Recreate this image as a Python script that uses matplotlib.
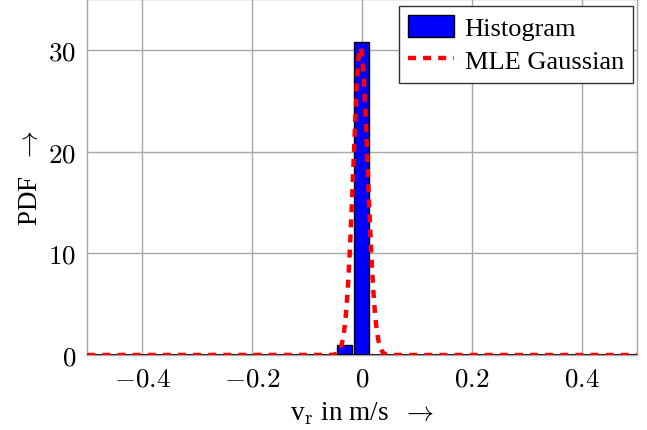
import numpy as np
import matplotlib
matplotlib.use("Agg")
import matplotlib.pyplot as plt
from matplotlib.ticker import FuncFormatter

# histogram bars
bin_centers = [-0.032, -0.001]
bin_heights = [1.0, 30.8]
bar_width = 0.026

# MLE Gaussian parameters (estimated from the drawn curve)
mle_mu = -0.003
mle_sigma = 0.0132

x_ticks = [-0.4, -0.2, 0.0, 0.2, 0.4]
y_ticks = [0, 10, 20, 30]

plt.rcParams['font.family'] = ['Liberation Serif', 'DejaVu Serif']
plt.rcParams['mathtext.fontset'] = 'cm'

fig = plt.figure(figsize=(6.47, 4.31), dpi=100)
ax = fig.add_axes([0.135, 0.174, 0.8495, 0.826])

bars = ax.bar(bin_centers, bin_heights, width=bar_width, color='#0000ff',
              edgecolor='black', linewidth=1.0, label='Histogram', zorder=3)
ax.axhline(0, color='black', lw=1.2, zorder=3)

xs = np.linspace(-0.5, 0.5, 2001)
pdf = np.exp(-0.5 * ((xs - mle_mu) / mle_sigma) ** 2) / (np.sqrt(2 * np.pi) * mle_sigma)
line, = ax.plot(xs, pdf, color='red', lw=3.2, label='MLE Gaussian', zorder=4)
line.set_dashes((1.8, 1.6))

ax.set_xlim(-0.5, 0.5)
ax.set_ylim(0, 35)
ax.set_xticks(x_ticks)
ax.set_yticks(y_ticks)
fmt = FuncFormatter(lambda v, p: '$%s$' % ('0' if abs(v) < 1e-9 else ('%g' % v)))
ax.xaxis.set_major_formatter(fmt)
ax.yaxis.set_major_formatter(fmt)
ax.tick_params(length=0, pad=8, labelsize=19.5)

ax.grid(True, color='#a8a8a8', lw=1.0, zorder=0)
ax.set_axisbelow(True)
for s in ax.spines.values():
    s.set_color('#a8a8a8')
    s.set_linewidth(1.0)

ax.set_xlabel(r'v$_\mathrm{r}$ in m/s  $\rightarrow$', fontsize=19.5, labelpad=6)
ax.set_ylabel(r'PDF  $\rightarrow$', fontsize=19.5, labelpad=4)

leg = ax.legend([bars, line], ['Histogram', 'MLE Gaussian'],
                loc='upper right', fancybox=False, framealpha=1, edgecolor='#333333',
                fontsize=19, handlelength=1.75, handleheight=0.9, handletextpad=0.4,
                borderpad=0.35, labelspacing=0.3, borderaxespad=0,
                bbox_to_anchor=(0.993, 0.98))
leg.get_frame().set_linewidth(1.0)

fig.savefig('out.png', dpi=100)
